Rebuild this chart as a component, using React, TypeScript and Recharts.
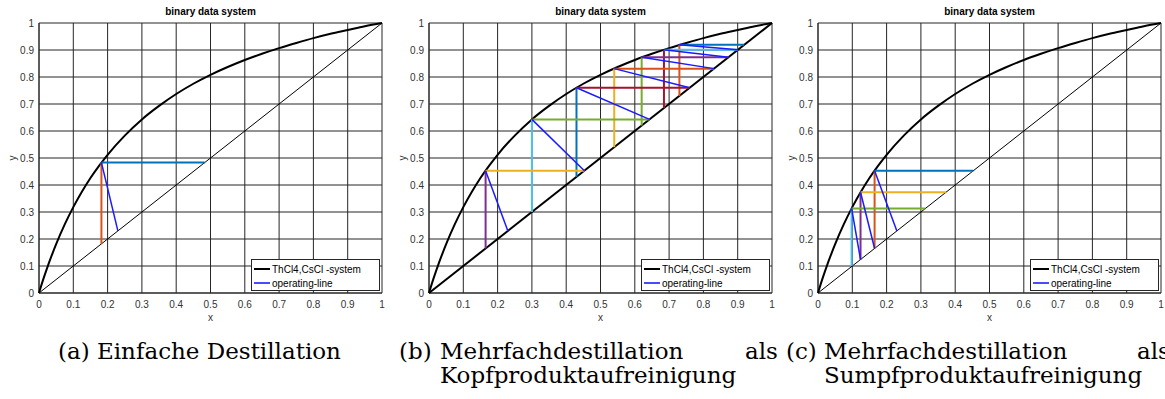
import React from 'react';
import { ScatterChart, Scatter, XAxis, YAxis, CartesianGrid, Legend } from 'recharts';

// axis ticks (same on x and y)
const ticks = [0, 0.1, 0.2, 0.3, 0.4, 0.5, 0.6, 0.7, 0.8, 0.9, 1];

// equilibrium curve ThCl4,CsCl
const eqX = [0, 0.01, 0.02, 0.03, 0.04, 0.05, 0.075, 0.1, 0.125, 0.15, 0.175, 0.2, 0.25, 0.3, 0.35, 0.4, 0.45, 0.5, 0.55, 0.6, 0.65, 0.7, 0.75, 0.8, 0.85, 0.9, 0.95, 1];
const eqY = [0, 0.041, 0.079, 0.115, 0.149, 0.181, 0.254, 0.318, 0.375, 0.426, 0.471, 0.512, 0.583, 0.643, 0.693, 0.737, 0.775, 0.808, 0.837, 0.863, 0.886, 0.907, 0.926, 0.944, 0.96, 0.974, 0.988, 1];

// diagonal y = x
const diagX = [0, 1];

const legendNames = ['ThCl4,CsCl -system', 'operating-line'];

// (a) single stage
const vertA = [{ x: 0.182, from: 0.182, to: 0.483 }];
const horzA = [{ y: 0.483, from: 0.182, to: 0.483 }];
const opA = [{ x1: 0.182, y1: 0.483, x2: 0.23, y2: 0.23 }];

// (b) rectifying steps
const vertB = [
  { x: 0.165, from: 0.165, to: 0.453 },
  { x: 0.3, from: 0.3, to: 0.643 },
  { x: 0.43, from: 0.43, to: 0.76 },
  { x: 0.54, from: 0.54, to: 0.831 },
  { x: 0.62, from: 0.62, to: 0.873 },
  { x: 0.685, from: 0.685, to: 0.901 },
  { x: 0.73, from: 0.73, to: 0.919 },
];
const horzB = [
  { y: 0.453, from: 0.165, to: 0.453 },
  { y: 0.643, from: 0.3, to: 0.643 },
  { y: 0.76, from: 0.43, to: 0.76 },
  { y: 0.831, from: 0.54, to: 0.831 },
  { y: 0.873, from: 0.62, to: 0.873 },
  { y: 0.901, from: 0.685, to: 0.901 },
  { y: 0.919, from: 0.73, to: 0.919 },
];
const opB = [
  { x1: 0.165, y1: 0.453, x2: 0.23, y2: 0.23 },
  { x1: 0.3, y1: 0.643, x2: 0.453, y2: 0.453 },
  { x1: 0.43, y1: 0.76, x2: 0.643, y2: 0.643 },
  { x1: 0.54, y1: 0.831, x2: 0.76, y2: 0.76 },
  { x1: 0.62, y1: 0.873, x2: 0.831, y2: 0.831 },
  { x1: 0.685, y1: 0.901, x2: 0.873, y2: 0.873 },
  { x1: 0.73, y1: 0.919, x2: 0.901, y2: 0.901 },
];

// (c) stripping steps
const vertC = [
  { x: 0.165, from: 0.165, to: 0.453 },
  { x: 0.124, from: 0.124, to: 0.373 },
  { x: 0.098, from: 0.1, to: 0.313 },
];
const horzC = [
  { y: 0.453, from: 0.165, to: 0.453 },
  { y: 0.373, from: 0.124, to: 0.373 },
  { y: 0.313, from: 0.098, to: 0.313 },
];
const opC = [
  { x1: 0.165, y1: 0.453, x2: 0.23, y2: 0.23 },
  { x1: 0.124, y1: 0.373, x2: 0.165, y2: 0.165 },
  { x1: 0.098, y1: 0.313, x2: 0.124, y2: 0.124 },
];

// matlab default line colours
const cBlue = '#0072BD';
const cOrange = '#D95319';
const cGold = '#EDB120';
const cPurple = '#7E2F8E';
const cGreen = '#77AC30';
const cCyan = '#4DBEEE';
const cRed = '#A2142F';
const opColor = '#1a1aff';
const axisColor = '#262626';
const sans = '"Liberation Sans", Arial, sans-serif';
const serif = '"DejaVu Serif", serif';

const curve = eqX.map((x, i) => ({ x, y: eqY[i] }));
const diag = diagX.map((x) => ({ x, y: x }));

const noShape = () => <g />;

const LegendBox = () => (
  <div
    style={{
      border: `1px solid ${axisColor}`,
      background: '#fff',
      fontFamily: sans,
      fontSize: 10,
      color: '#000',
      padding: '2px 2px',
      boxSizing: 'border-box',
      width: 129,
      height: 32,
    }}
  >
    {legendNames.map((name, i) => (
      <div key={name} style={{ display: 'flex', alignItems: 'center', height: 14 }}>
        <span
          style={{
            display: 'inline-block',
            width: 16,
            height: 2,
            background: i === 0 ? '#000' : '#4a4aff',
            marginRight: 2,
          }}
        />
        <span>{name}</span>
      </div>
    ))}
  </div>
);

type V = { x: number; from: number; to: number };
type H = { y: number; from: number; to: number };
type O = { x1: number; y1: number; x2: number; y2: number };

type PanelProps = {
  left: number;
  vert: V[];
  horz: H[];
  op: O[];
  vColors: string[];
  hColors: string[];
  diagWidth: number;
};

const Panel = ({ left, vert, horz, op, vColors, hColors, diagWidth }: PanelProps) => (
  <div style={{ position: 'absolute', left, top: 0, width: 390, height: 330 }}>
    <div
      style={{
        position: 'absolute',
        left: 39,
        width: 343,
        top: 6,
        textAlign: 'center',
        fontFamily: sans,
        fontWeight: 'bold',
        fontSize: 10,
        lineHeight: '12px',
        color: '#000',
      }}
    >
      binary data system
    </div>
    <ScatterChart
      width={390}
      height={330}
      margin={{ top: 23, right: 8, bottom: 7, left: 0 }}
      style={{ fontFamily: sans }}
    >
      <CartesianGrid stroke={axisColor} strokeWidth={1} />
      <XAxis
        type="number"
        dataKey="x"
        domain={[0, 1]}
        ticks={ticks}
        interval={0}
        height={30}
        tickSize={0}
        tickMargin={8}
        axisLine={{ stroke: axisColor }}
        tick={{ fontSize: 10, fill: '#333' }}
        label={{ value: 'x', position: 'insideBottom', offset: 2, fontSize: 10, fill: '#333' }}
      />
      <YAxis
        type="number"
        dataKey="y"
        domain={[0, 1]}
        ticks={ticks}
        interval={0}
        width={39}
        tickSize={0}
        tickMargin={5}
        axisLine={{ stroke: axisColor }}
        tick={{ fontSize: 10, fill: '#333' }}
        label={{ value: 'y', angle: -90, position: 'insideLeft', offset: 12, fontSize: 10, fill: '#333', style: { textAnchor: 'middle' } }}
      />
      <Scatter
        data={diag}
        line={{ stroke: '#000', strokeWidth: diagWidth }}
        shape={noShape}
        isAnimationActive={false}
      />
      <Scatter
        data={curve}
        line={{ stroke: '#000', strokeWidth: 2 }}
        lineJointType="monotoneX"
        shape={noShape}
        isAnimationActive={false}
      />
      {vert.map((s, i) => (
        <Scatter
          key={`v${i}`}
          data={[{ x: s.x, y: s.from }, { x: s.x, y: s.to }]}
          line={{ stroke: vColors[i], strokeWidth: 2 }}
          shape={noShape}
          isAnimationActive={false}
        />
      ))}
      {horz.map((s, i) => (
        <Scatter
          key={`h${i}`}
          data={[{ x: s.from, y: s.y }, { x: s.to, y: s.y }]}
          line={{ stroke: hColors[i], strokeWidth: 2 }}
          shape={noShape}
          isAnimationActive={false}
        />
      ))}
      {op.map((s, i) => (
        <Scatter
          key={`o${i}`}
          data={[{ x: s.x1, y: s.y1 }, { x: s.x2, y: s.y2 }]}
          line={{ stroke: opColor, strokeWidth: 1.5 }}
          shape={noShape}
          isAnimationActive={false}
        />
      ))}
      <Legend
        layout="horizontal"
        verticalAlign="middle"
        align="center"
        content={() => <LegendBox />}
        wrapperStyle={{ left: 251, top: 259, width: 129, height: 32, right: 'auto', bottom: 'auto' }}
      />
    </ScatterChart>
  </div>
);

const cap: React.CSSProperties = {
  position: 'absolute',
  fontFamily: serif,
  fontSize: 23,
  lineHeight: '24px',
  color: '#000',
  whiteSpace: 'nowrap',
};

const App = () => (
  <div
    style={{
      position: 'absolute',
      left: 0,
      top: 0,
      width: 1165,
      height: 399,
      overflow: 'hidden',
      background: '#fff',
    }}
  >
    <Panel left={0} vert={vertA} horz={horzA} op={opA} vColors={[cOrange]} hColors={[cBlue]} diagWidth={1} />
    <Panel
      left={390}
      vert={vertB}
      horz={horzB}
      op={opB}
      vColors={[cPurple, cCyan, cBlue, cGold, cGreen, cRed, cOrange]}
      hColors={[cGold, cGreen, cRed, cOrange, cPurple, cCyan, cBlue]}
      diagWidth={2}
    />
    <Panel
      left={779}
      vert={vertC}
      horz={horzC}
      op={opC}
      vColors={[cOrange, cPurple, cCyan]}
      hColors={[cBlue, cGold, cGreen]}
      diagWidth={1}
    />

    <div style={{ ...cap, left: 58, top: 339 }}>(a) Einfache Destillation</div>

    <div style={{ ...cap, left: 399, top: 339 }}>(b)</div>
    <div style={{ ...cap, left: 440, top: 339 }}>Mehrfachdestillation</div>
    <div style={{ ...cap, left: 745, top: 339 }}>als</div>
    <div style={{ ...cap, left: 440, top: 363 }}>Kopfproduktaufreinigung</div>

    <div style={{ ...cap, left: 786, top: 339 }}>(c)</div>
    <div style={{ ...cap, left: 824, top: 339 }}>Mehrfachdestillation</div>
    <div style={{ ...cap, left: 1137, top: 339 }}>als</div>
    <div style={{ ...cap, left: 824, top: 363 }}>Sumpfproduktaufreinigung</div>
  </div>
);

export default App;
